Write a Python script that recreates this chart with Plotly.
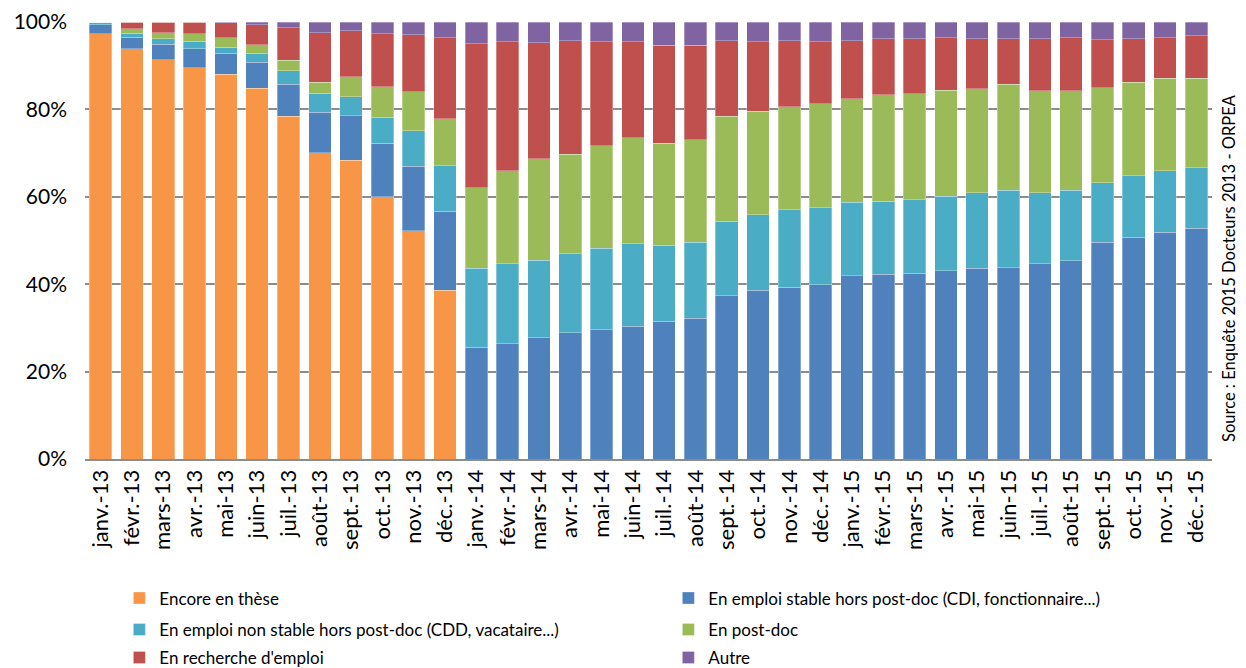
import plotly.graph_objects as go

months = ["janv.-13", "févr.-13", "mars-13", "avr.-13", "mai-13", "juin-13", "juil.-13", "août-13",
          "sept.-13", "oct.-13", "nov.-13", "déc.-13",
          "janv.-14", "févr.-14", "mars-14", "avr.-14", "mai-14", "juin-14", "juil.-14", "août-14",
          "sept.-14", "oct.-14", "nov.-14", "déc.-14",
          "janv.-15", "févr.-15", "mars-15", "avr.-15", "mai-15", "juin-15", "juil.-15", "août-15",
          "sept.-15", "oct.-15", "nov.-15", "déc.-15"]

these = [97.3, 93.9, 91.4, 89.5, 88.1, 84.8, 78.4, 70.1, 68.4, 60.0, 52.2, 38.6,
         0, 0, 0, 0, 0, 0, 0, 0, 0, 0, 0, 0,
         0, 0, 0, 0, 0, 0, 0, 0, 0, 0, 0, 0]
stable = [2.1, 2.6, 3.5, 4.4, 4.8, 6.0, 7.3, 9.2, 10.1, 12.3, 14.8, 18.1,
          25.6, 26.4, 27.8, 28.9, 29.6, 30.4, 31.5, 32.2, 37.4, 38.6, 39.3, 39.9,
          41.9, 42.3, 42.5, 43.1, 43.6, 43.8, 44.7, 45.4, 49.6, 50.8, 51.9, 52.8]
non_stable = [0.6, 0.9, 1.3, 1.7, 1.3, 2.1, 3.1, 4.4, 4.4, 5.9, 8.1, 10.4,
              18.1, 18.3, 17.7, 18.1, 18.6, 18.9, 17.4, 17.4, 17.0, 17.3, 17.7, 17.6,
              16.8, 16.7, 16.8, 17.0, 17.3, 17.7, 16.2, 16.1, 13.6, 14.0, 14.1, 13.9]
postdoc = [0, 1.1, 1.3, 1.7, 2.2, 1.9, 2.4, 2.5, 4.6, 7.0, 8.9, 10.8,
           18.4, 21.3, 23.2, 22.7, 23.5, 24.2, 23.4, 23.5, 24.0, 23.7, 23.6, 23.8,
           23.7, 24.4, 24.3, 24.3, 23.8, 24.2, 23.4, 22.8, 21.8, 21.4, 21.1, 20.4]
recherche = [0, 1.5, 2.5, 2.7, 3.4, 4.6, 7.5, 11.3, 10.5, 12.1, 13.1, 18.5,
             32.9, 29.5, 26.5, 26.0, 23.8, 22.0, 22.4, 21.6, 17.3, 15.9, 15.1, 14.2,
             13.3, 12.8, 12.6, 12.0, 11.5, 10.5, 11.9, 12.1, 10.9, 10.0, 9.3, 9.7]
autre = [0, 0, 0, 0, 0.2, 0.6, 1.3, 2.5, 2.0, 2.7, 2.9, 3.6,
         5.0, 4.5, 4.8, 4.3, 4.5, 4.5, 5.3, 5.3, 4.3, 4.5, 4.3, 4.5,
         4.3, 3.8, 3.8, 3.6, 3.8, 3.8, 3.8, 3.6, 4.1, 3.8, 3.6, 3.2]

y_ticks = [0, 20, 40, 60, 80, 100]
y_tick_labels = ["0%", "20%", "40%", "60%", "80%", "100%"]

# (name, values, colour, legend row)
series = [
    ("Encore en thèse", these, "#F79646", "legend"),
    ("En emploi stable hors post-doc (CDI, fonctionnaire...)", stable, "#4F81BD", "legend"),
    ("En emploi non stable hors post-doc (CDD, vacataire...)", non_stable, "#4BACC6", "legend2"),
    ("En post-doc", postdoc, "#9BBB59", "legend2"),
    ("En recherche d'emploi", recherche, "#C0504D", "legend3"),
    ("Autre", autre, "#8064A2", "legend3"),
]

fig = go.Figure()
for name, vals, col, leg in series:
    fig.add_trace(go.Bar(x=months, y=vals, name=name, legend=leg,
                         marker=dict(color=col, line=dict(color="rgba(255,255,255,0.5)", width=0.6))))

FONT = "Lato"
leg_common = dict(orientation="h", x=0.0305, xanchor="left", yanchor="top",
                  font=dict(size=17, family=FONT), entrywidth=504, entrywidthmode="pixels",
                  traceorder="normal", itemwidth=30, bgcolor="rgba(0,0,0,0)")

fig.update_layout(
    barmode="stack",
    barnorm="percent",
    bargap=0.28,
    width=1238, height=660,
    margin=dict(l=77, r=34, t=14, b=209, autoexpand=False),
    plot_bgcolor="white", paper_bgcolor="white",
    font=dict(family=FONT, color="#000000"),
    xaxis=dict(tickangle=-90, tickfont=dict(size=22, family=FONT), showgrid=False,
               showline=True, linecolor="#8c8c8c", linewidth=2, ticks="", automargin=False),
    yaxis=dict(range=[0, 100], tickvals=y_ticks, ticktext=y_tick_labels,
               tickfont=dict(size=21, family=FONT), showgrid=True, gridcolor="#8c8c8c",
               gridwidth=1.5, zeroline=False, ticks="", ticklabelstandoff=17, automargin=False),
    legend=dict(y=-0.278, **leg_common),
    legend2=dict(y=-0.350, **leg_common),
    legend3=dict(y=-0.414, **leg_common),
    annotations=[dict(text="Source : Enquête 2015 Docteurs 2013 - ORPEA", xref="paper", yref="paper",
                      x=1.015, y=0.437, xanchor="center", yanchor="middle", textangle=-90,
                      showarrow=False, font=dict(size=16.5, family=FONT, color="#000000"))],
)

fig.write_html("out.html")
